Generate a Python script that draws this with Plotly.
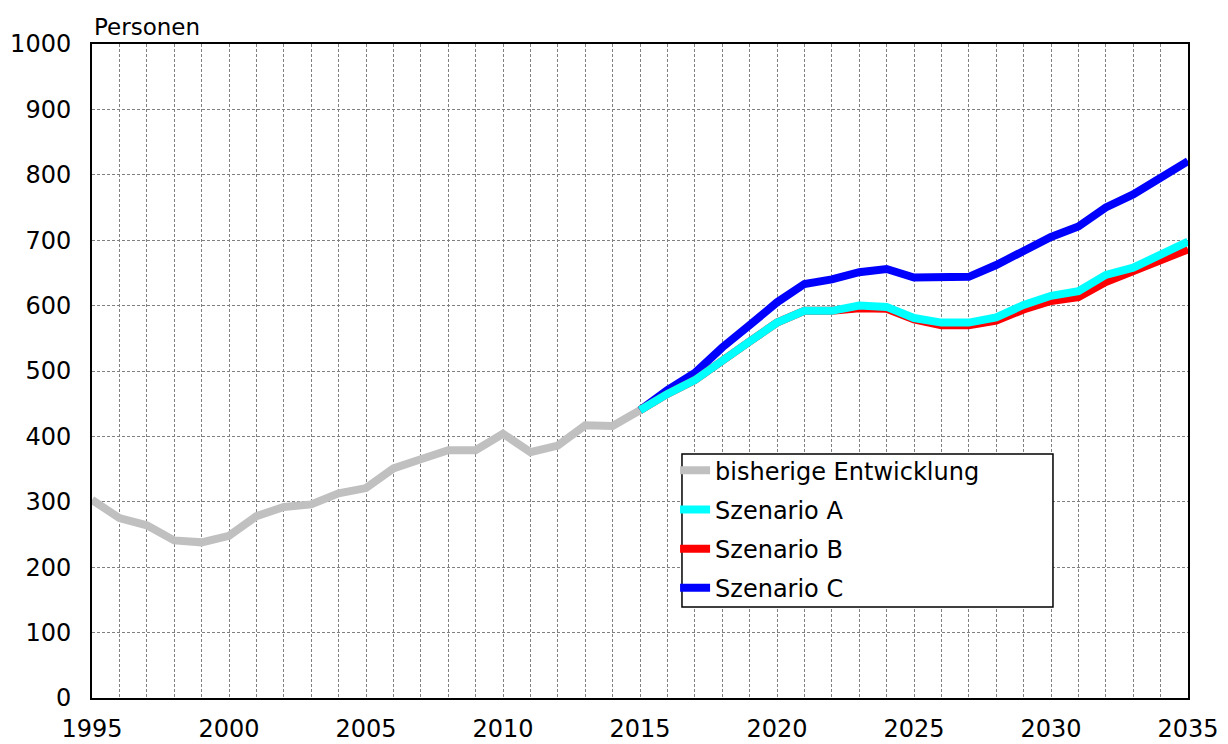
import plotly.graph_objects as go

# bisherige Entwicklung (1995-2015)
years_hist = list(range(1995, 2016))
hist = [303, 275, 264, 241, 238, 248, 278, 292, 296, 313, 321,
        351, 365, 379, 379, 404, 376, 386, 417, 416, 440]

# Szenarien (2015-2035)
years_scen = list(range(2015, 2036))
scen_a = [440, 465, 486, 517, 545, 574, 592, 592, 600, 598, 581,
          574, 574, 582, 601, 615, 622, 647, 658, 678, 698]
scen_b = [440, 465, 486, 517, 545, 574, 592, 592, 596, 595, 579,
          570, 570, 577, 594, 607, 613, 636, 653, 668, 686]
scen_c = [440, 471, 497, 536, 570, 605, 633, 640, 651, 656, 643,
          643, 644, 662, 685, 705, 721, 750, 770, 796, 821]

x_ticks = [1995, 2000, 2005, 2010, 2015, 2020, 2025, 2030, 2035]

fig = go.Figure()

# drawing order: grey, C, B, A (A on top) - legend order via legendrank
fig.add_trace(go.Scatter(x=years_hist, y=hist, mode="lines", name="bisherige Entwicklung",
                         line=dict(color="#c0c0c0", width=8), legendrank=1, legendgroup="g1"))
fig.add_trace(go.Scatter(x=years_scen, y=scen_c, mode="lines", name="Szenario C",
                         line=dict(color="#0000ff", width=8), legendrank=4, legendgroup="g4"))
fig.add_trace(go.Scatter(x=years_scen, y=scen_b, mode="lines", name="Szenario B",
                         line=dict(color="#ff0000", width=8), legendrank=3, legendgroup="g3"))
fig.add_trace(go.Scatter(x=years_scen, y=scen_a, mode="lines", name="Szenario A",
                         line=dict(color="#00ffff", width=8), legendrank=2, legendgroup="g2"))

grid = dict(showgrid=True, gridcolor="#808080", gridwidth=1, griddash="3px,2px",
            showline=True, linecolor="black", linewidth=2, mirror=True,
            zeroline=False, ticks="", automargin=False,
            tickfont=dict(size=24, color="black"))

fig.update_xaxes(range=[1995, 2035], dtick=1, tickvals=list(range(1995, 2036)),
                 ticktext=[str(y) if y in x_ticks else "" for y in range(1995, 2036)],
                 ticklabelstandoff=8, **grid)
fig.update_yaxes(range=[0, 1000], dtick=100, ticklabelstandoff=14, **grid)

fig.add_annotation(text="Personen", xref="paper", yref="paper", x=0, y=1.0,
                   xanchor="left", yanchor="bottom", yshift=2, showarrow=False,
                   font=dict(size=23, color="black"))

# white legend frame, the legend itself sits on top of it without border
fig.add_shape(type="rect", xref="paper", yref="paper",
              x0=0.5383, x1=0.8768, y0=0.139, y1=0.373,
              fillcolor="white", line=dict(color="black", width=1.5), layer="above")

# body margin of the page is 8px, margins compensate for it
fig.update_layout(
    width=1228, height=744,
    margin=dict(l=84, r=48, t=36, b=54),
    paper_bgcolor="white", plot_bgcolor="white",
    font=dict(family="DejaVu Sans, Arial, sans-serif", color="black"),
    legend=dict(x=0.532, y=0.382, xanchor="left", yanchor="top",
                bgcolor="rgba(0,0,0,0)", borderwidth=0,
                font=dict(size=24), tracegroupgap=5, itemwidth=30,
                traceorder="grouped"),
)

fig.write_html("out.html")
